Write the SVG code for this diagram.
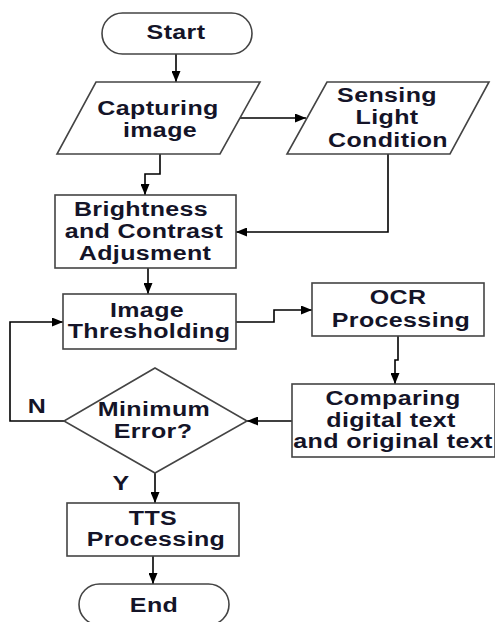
<svg xmlns="http://www.w3.org/2000/svg" width="495" height="622" viewBox="0 0 495 622">
<defs>
<marker id="ah" markerWidth="11" markerHeight="9" refX="11" refY="4.5" orient="auto" markerUnits="userSpaceOnUse">
<path d="M0,0 L11,4.5 L0,9 z" fill="#000"/>
</marker>
<style>
.n{fill:#fff;stroke:#444;stroke-width:1.6}
.t{font-family:"Liberation Sans",Arial,sans-serif;font-weight:bold;font-size:20px;letter-spacing:0.3px;fill:#141428;text-anchor:middle}
.c{fill:none;stroke:#000;stroke-width:1.6;marker-end:url(#ah)}
</style>
</defs>
<rect width="495" height="622" fill="#fff"/>
<g id="connectors">
<path class="c" d="M176,54 V82"/>
<path class="c" d="M240,118 H306"/>
<path class="c" d="M160,154 V174 H145 V195"/>
<path class="c" d="M388,154 V232 H236"/>
<path class="c" d="M148,268 V294"/>
<path class="c" d="M236,322 H274 V310 H312"/>
<path class="c" d="M398,336 V360 H395 V384"/>
<path class="c" d="M292,421 H247"/>
<path class="c" d="M64,421 H10 V322 H63"/>
<path class="c" d="M155,473 V503"/>
<path class="c" d="M153,556 V584"/>
</g>
<g id="start">
<rect class="n" x="102" y="13" width="150" height="41" rx="20.5"/>
<text class="t" transform="translate(176,39) scale(1.25,1)">Start</text>
</g>
<g id="capturing">
<polygon class="n" points="96,82 260,82 220,154 57,154"/>
<text class="t" transform="translate(158,115) scale(1.25,1)">Capturing</text>
<text class="t" transform="translate(160,137) scale(1.25,1)">image</text>
</g>
<g id="sensing">
<polygon class="n" points="327,82 489,82 450,154 287,154"/>
<text class="t" transform="translate(387,102) scale(1.25,1)">Sensing</text>
<text class="t" transform="translate(387,124) scale(1.25,1)">Light</text>
<text class="t" transform="translate(388,147) scale(1.25,1)">Condition</text>
</g>
<g id="brightness">
<rect class="n" x="55" y="195" width="181" height="73"/>
<text class="t" transform="translate(141,216) scale(1.25,1)">Brightness</text>
<text class="t" transform="translate(144,238) scale(1.25,1)">and Contrast</text>
<text class="t" transform="translate(145,260) scale(1.25,1)">Adjusment</text>
</g>
<g id="thresholding">
<rect class="n" x="63" y="294" width="173" height="55"/>
<text class="t" transform="translate(147,317) scale(1.25,1)">Image</text>
<text class="t" transform="translate(149,338) scale(1.25,1)">Thresholding</text>
</g>
<g id="ocr">
<rect class="n" x="312" y="283" width="172" height="53"/>
<text class="t" transform="translate(398,304) scale(1.25,1)">OCR</text>
<text class="t" transform="translate(401,327) scale(1.25,1)">Processing</text>
</g>
<g id="comparing">
<rect class="n" x="292" y="384" width="203" height="73"/>
<text class="t" transform="translate(393,405) scale(1.25,1)">Comparing</text>
<text class="t" transform="translate(391,427) scale(1.25,1)">digital text</text>
<text class="t" transform="translate(393,448) scale(1.25,1)">and original text</text>
</g>
<g id="decision">
<polygon class="n" points="155,368 247,421 155,473 64,421"/>
<text class="t" transform="translate(154,416) scale(1.25,1)">Minimum</text>
<text class="t" transform="translate(153,438) scale(1.25,1)">Error?</text>
<text class="t" transform="translate(37,413) scale(1.25,1)">N</text>
<text class="t" transform="translate(121,490) scale(1.25,1)">Y</text>
</g>
<g id="tts">
<rect class="n" x="67" y="503" width="172" height="53"/>
<text class="t" transform="translate(153,525) scale(1.25,1)">TTS</text>
<text class="t" transform="translate(156,546) scale(1.25,1)">Processing</text>
</g>
<g id="end">
<rect class="n" x="79" y="584" width="150" height="41" rx="20.5"/>
<text class="t" transform="translate(154,612) scale(1.25,1)">End</text>
</g>
</svg>
